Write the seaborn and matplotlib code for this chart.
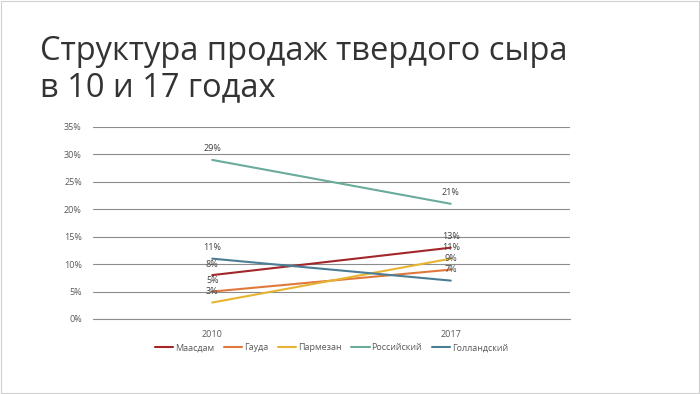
import matplotlib
matplotlib.use("Agg")
import matplotlib.pyplot as plt
import seaborn as sns
import pandas as pd

years = ["2010", "2017"]
series = ["Маасдам", "Гауда", "Пармезан", "Российский", "Голландский"]
v2010 = [8, 5, 3, 29, 11]
v2017 = [13, 9, 11, 21, 7]
colors = ["#a3262a", "#e0783c", "#e6b431", "#6aab9b", "#4b7d95"]

rows = []
for s, a, b in zip(series, v2010, v2017):
    rows.append({"year": years[0], "x": 0, "series": s, "value": a})
    rows.append({"year": years[1], "x": 1, "series": s, "value": b})
df = pd.DataFrame(rows)

sns.set_style("white")
plt.rcParams['font.family'] = ['Open Sans', 'DejaVu Sans']

fig = plt.figure(figsize=(7, 3.94), dpi=100)
ax = fig.add_axes([93/700, 1-319/394, (570-93)/700, (319-127)/394])

sns.lineplot(data=df, x="x", y="value", hue="series", palette=colors,
             hue_order=series, ax=ax, linewidth=1.5, legend=True)

for s, a, b in zip(series, v2010, v2017):
    ax.text(0, a + 2.0, f"{a}%", ha="center", va="center", fontsize=6.5, color="#404040")
    ax.text(1, b + 2.0, f"{b}%", ha="center", va="center", fontsize=6.5, color="#404040")

ax.set_xlim(-0.5, 1.5)
ax.set_ylim(0, 35)
ax.set_xticks([0, 1])
ax.set_xticklabels(years, fontsize=6.5, color="#595959")
ax.set_yticks(range(0, 36, 5))
ax.set_yticklabels([f"{v}%" for v in range(0, 36, 5)], fontsize=6.5, color="#595959")
ax.grid(axis="y", color="#8c8c8c", linewidth=0.8)
ax.axhline(0, color="#8c8c8c", linewidth=0.8, clip_on=False, zorder=0)
ax.set_axisbelow(True)
for sp in ax.spines.values():
    sp.set_visible(False)
ax.tick_params(length=0, pad=8)
ax.set_xlabel("")
ax.set_ylabel("")

leg = ax.legend(loc="upper center", bbox_to_anchor=(0.5, -0.085), ncol=5, frameon=False,
                fontsize=6.5, handlelength=2.0, handletextpad=0.2, columnspacing=1.1)
for t in leg.get_texts():
    t.set_color("#595959")

fig.text(40/700, 1-35/394, "Структура продаж твердого сыра\nв 10 и 17 годах", fontsize=23.5,
         color="#333333", ha="left", va="top", linespacing=1.12)

fig.patches.append(plt.Rectangle((0.002, 0.003), 0.996, 0.994, transform=fig.transFigure,
                                 fill=False, edgecolor="#d0d0d0", linewidth=0.8))

fig.savefig("out.png", dpi=100)
